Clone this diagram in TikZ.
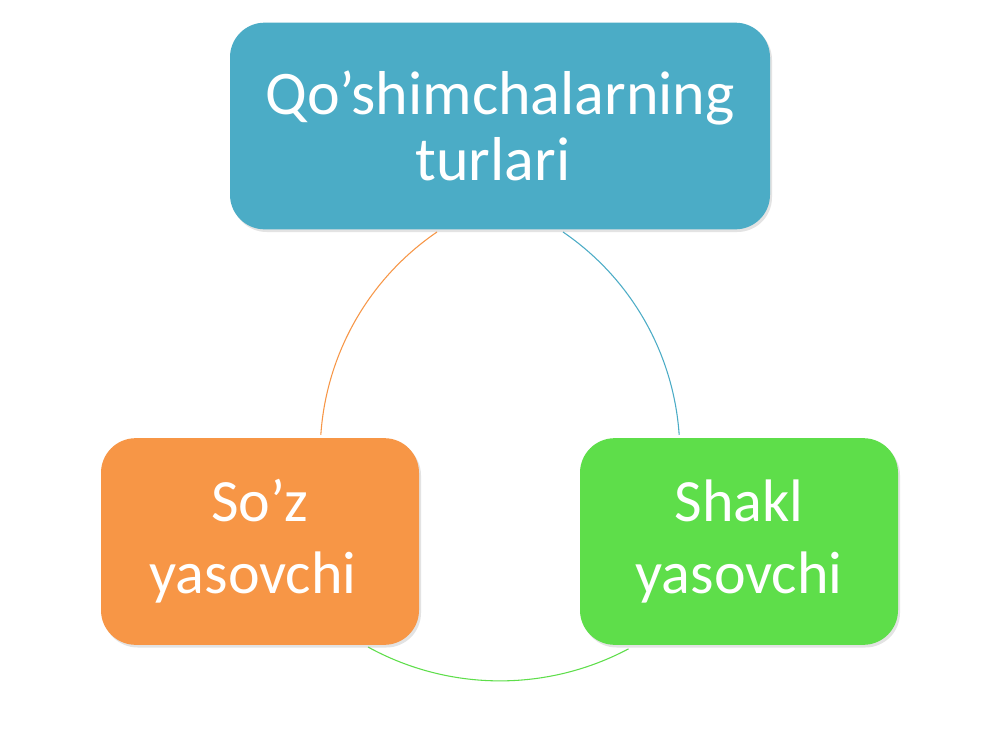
\documentclass[tikz,border=0pt]{standalone}
\usepackage{fontspec}
\setmainfont{Carlito}
\usetikzlibrary{shadows}
\definecolor{topblue}{HTML}{4BACC6}
\definecolor{boxorange}{HTML}{F79646}
\definecolor{boxgreen}{HTML}{5EDE4A}
\tikzset{
  cyclebox/.style={rounded corners=26pt, text=white, align=center, inner sep=0pt,
    drop shadow={opacity=0.22, shadow xshift=1.5pt, shadow yshift=-2pt}},
  topbox/.style={cyclebox, fill=topblue, minimum width=405pt, minimum height=155pt,
    font=\fontsize{46.5}{49}\selectfont},
  sidebox/.style={cyclebox, minimum width=238.5pt, minimum height=155pt,
    font=\fontsize{45}{54}\selectfont},
  cyclearc/.style={line width=0.8pt}
}
\begin{document}
\begin{tikzpicture}[x=0.75pt,y=-0.75pt]
\useasboundingbox[fill=white] (0,0) rectangle (1000,750);
% arc end points
\coordinate (o1) at (437,232);
\coordinate (b1) at (563,232);
\coordinate (g1) at (368,647);
% connectors
\draw[cyclearc, boxorange] (o1) arc[start angle=235.7, end angle=183.9, radius=267.6];
\draw[cyclearc, topblue] (b1) arc[start angle=-55.7, end angle=-3.9, radius=267.6];
\draw[cyclearc, boxgreen] (g1) arc[start angle=118.8, end angle=62, radius=273.9];
% boxes
\node[topbox] (top) at (500,126) {Qo’shimchalarning\\turlari\hspace*{0.23em}};
\node[sidebox, fill=boxorange] (left) at (260,541.5) {So’z\\yasovchi\hspace*{0.23em}};
\node[sidebox, fill=boxgreen] (right) at (739,541.5) {Shakl\\yasovchi};
\end{tikzpicture}
\end{document}
